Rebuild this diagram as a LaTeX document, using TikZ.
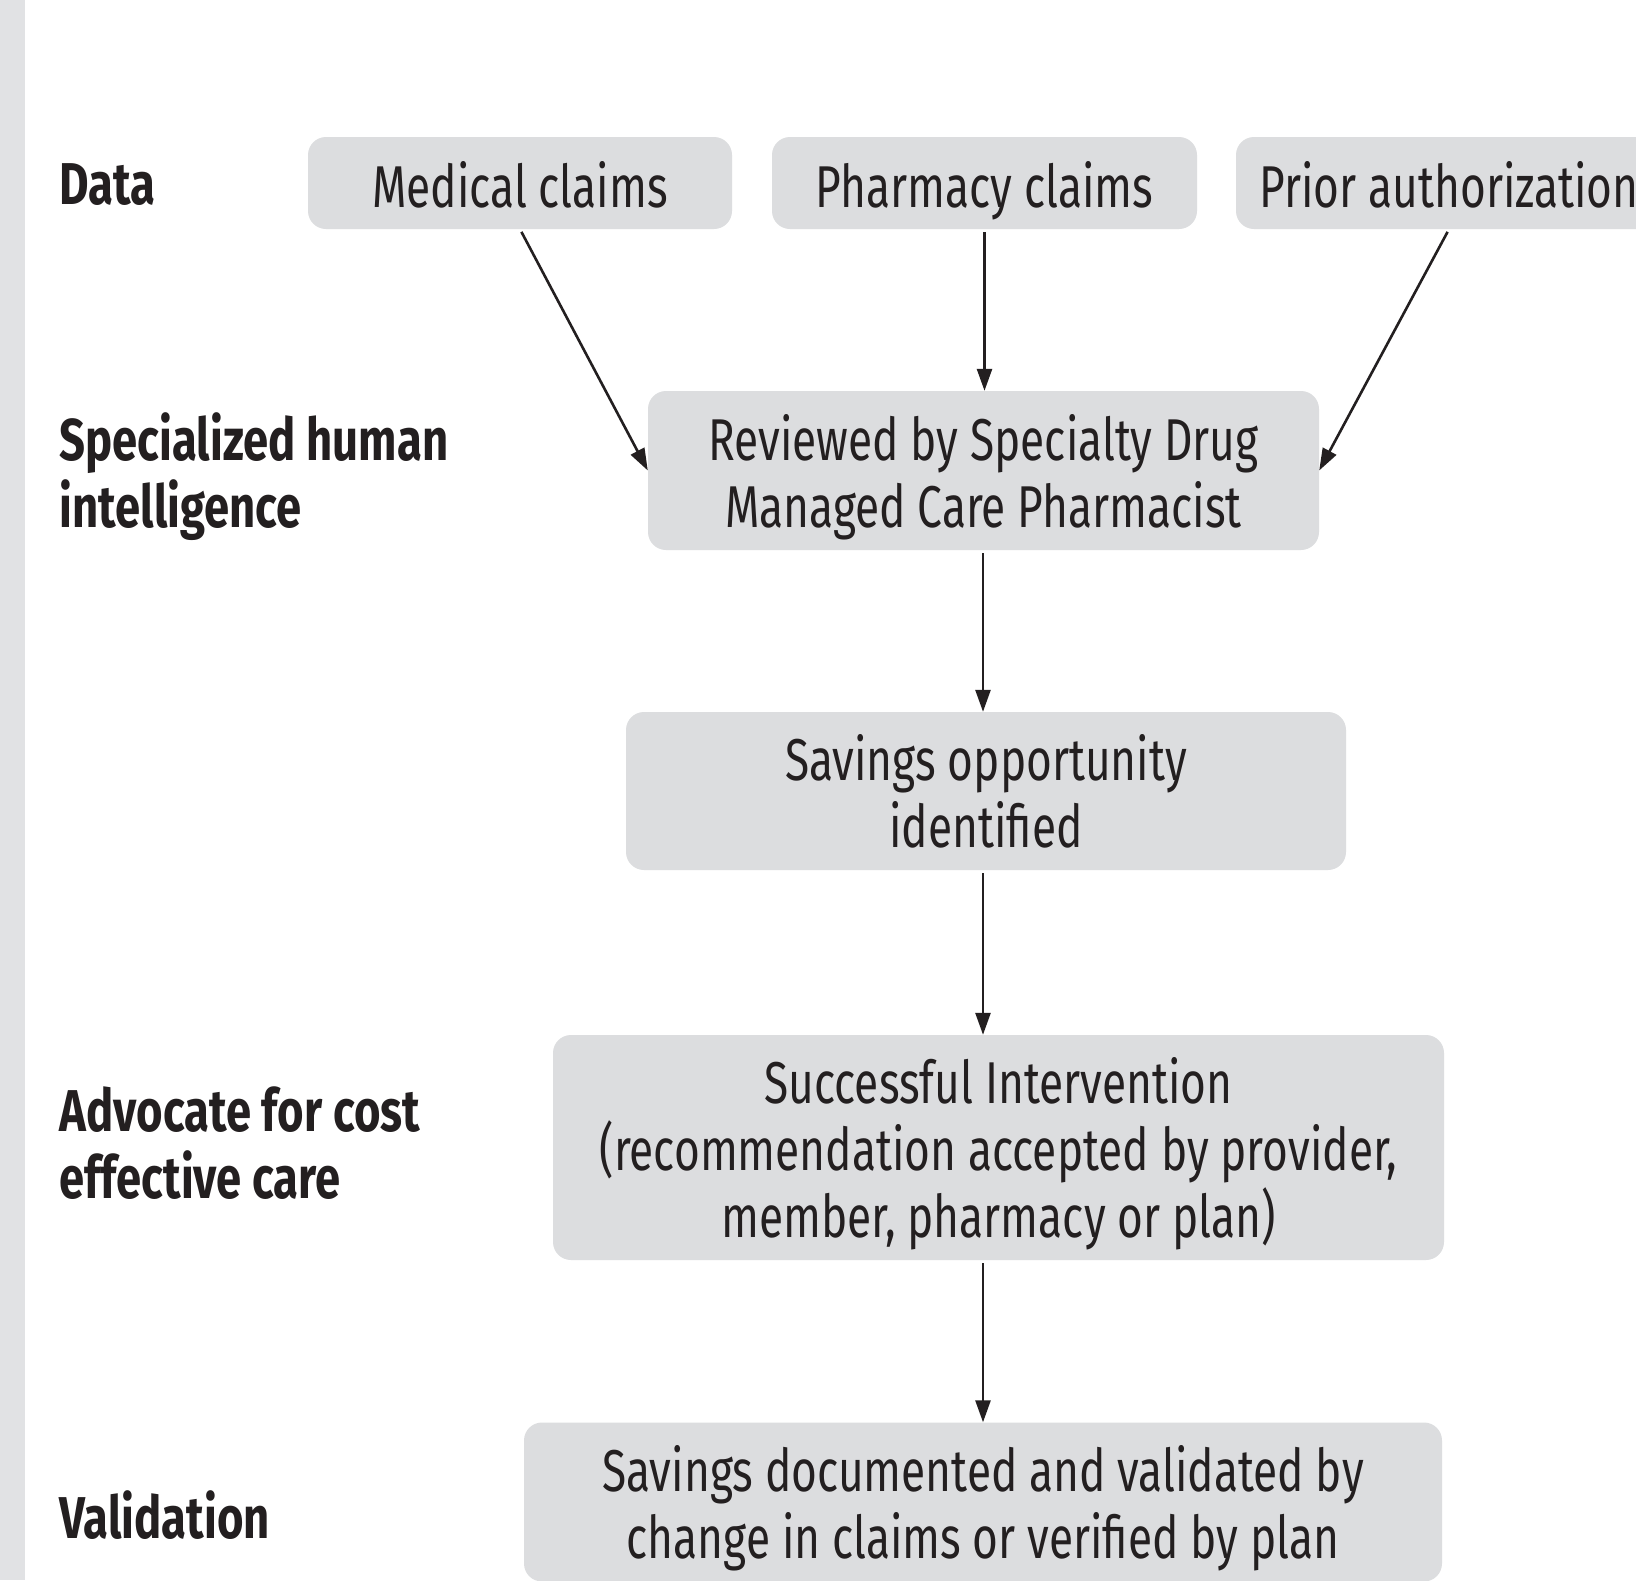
\documentclass[tikz,border=0pt]{standalone}
\usepackage{fontspec}
\setmainfont{Fira Sans}[FakeStretch=0.75, BoldFeatures={FakeStretch=0.77}]
\usetikzlibrary{arrows.meta}
\definecolor{boxgray}{HTML}{DCDDDF}
\definecolor{bargray}{HTML}{E1E2E4}
\definecolor{ink}{HTML}{231F20}

\begin{document}
\begin{tikzpicture}[x=1pt,y=-1pt,
  stepbox/.style={fill=boxgray, rounded corners=18pt, inner sep=0pt,
    align=center, text=ink, font=\fontsize{59}{67}\selectfont},
  onerow/.style={text height=56pt, text depth=7pt},
  manyrows/.style={text depth=0pt},
  rowlabel/.style={anchor=west, align=left, text=ink, inner sep=0pt,
    font=\fontsize{59}{67}\selectfont\bfseries},
  flow/.style={draw=ink, line width=2.6pt,
    -{Triangle[length=22pt,width=15pt]}, shorten <=3pt}]

\useasboundingbox (0,0) rectangle (1636,1580);
\clip (0,0) rectangle (1636,1580);
\fill[white] (0,0) rectangle (1636,1580);

% side rule
\fill[bargray] (0,0) rectangle (25,1580);

% row labels
\node[rowlabel] (lData) at (59.5,185) {Data};
\node[rowlabel] (lHuman) at (59.5,477) {Specialized human\\intelligence};
\node[rowlabel] (lAdvocate) at (59.5,1143) {Advocate for cost\\effective care};
\node[rowlabel] (lValid) at (59.5,1515) {Validation};

% data sources
\node[stepbox, onerow, minimum width=424pt, minimum height=92pt] (med) at (520,183) {Medical claims};
\node[stepbox, onerow, minimum width=425pt, minimum height=92pt] (pha) at (984.5,183) {Pharmacy claims};
\node[stepbox, onerow, minimum width=426pt, minimum height=92pt] (pri) at (1449,183) {Prior authorization};

% process steps
\node[stepbox, manyrows, minimum width=671pt, minimum height=159pt] (rev) at (983.5,470.5)
  {Reviewed by Specialty Drug\\Managed Care Pharmacist};
\node[stepbox, manyrows, minimum width=720pt, minimum height=158pt] (opp) at (986,791)
  {Savings opportunity\\identified};
\node[stepbox, manyrows, minimum width=891pt, minimum height=225pt] (suc) at (998.5,1147.5)
  {Successful Intervention\\(recommendation accepted by provider,\\member, pharmacy or plan)};
\node[stepbox, manyrows, minimum width=918pt, minimum height=159pt] (doc) at (983,1502)
  {Savings documented and validated by\\change in claims or verified by plan};

% vertical spine of the flow
\coordinate (spine) at (983,0);

% connectors
\draw[flow] (med.south) -- (rev.west);
\draw[flow] (pha.south) -- (pha.south |- rev.north);
\draw[flow] (pri.south) -- (rev.east);
\draw[flow] (spine |- rev.south) -- (spine |- opp.north);
\draw[flow] (spine |- opp.south) -- (spine |- suc.north);
\draw[flow] (spine |- suc.south) -- (spine |- doc.north);
\end{tikzpicture}
\end{document}
